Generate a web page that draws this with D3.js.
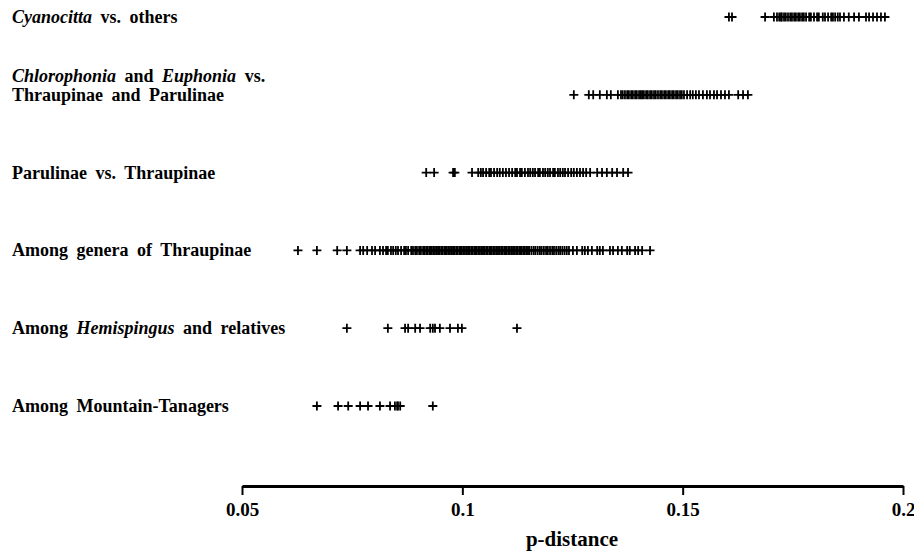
<!DOCTYPE html>
<html>
<head>
<meta charset="utf-8">
<script src="https://cdn.jsdelivr.net/npm/d3@7"></script>
<style>
  body { margin: 0; background: #fff; }
  text { font-family: "Liberation Serif", "Times New Roman", serif; font-weight: bold; fill: #000; }
</style>
</head>
<body>
<div id="chart"></div>
<script>
// 1: DATA (p-distances)
const categories = ["cyanocitta", "chlorophonia", "parulinae", "thraupinae", "hemispingus", "mountain"];

// label pieces: [text, italic?]
const labelLines = [
    [[["Cyanocitta", true], [" vs. others", false]]],
    [[["Chlorophonia", true], [" and ", false], ["Euphonia", true], [" vs.", false]],
     [["Thraupinae and Parulinae", false]]],
    [[["Parulinae vs. Thraupinae", false]]],
    [[["Among genera of Thraupinae", false]]],
    [[["Among ", false], ["Hemispingus", true], [" and relatives", false]]],
    [[["Among Mountain-Tanagers", false]]]
];

const cyanocittaValues = [0.1605, 0.1612, 0.1687, 0.1707, 0.1714, 0.1719, 0.1723, 0.1725, 0.1730,
    0.1734, 0.1739, 0.1744, 0.1748, 0.1753, 0.1757, 0.1762, 0.1766, 0.1771, 0.1775, 0.1780,
    0.1787, 0.1791, 0.1798, 0.1805, 0.1809, 0.1818, 0.1823, 0.1830, 0.1837, 0.1841, 0.1846,
    0.1852, 0.1857, 0.1866, 0.1877, 0.1889, 0.1900, 0.1916, 0.1923, 0.1932, 0.1941, 0.1950, 0.1959];

const chlorophoniaValues = [0.1253, 0.1287, 0.1297, 0.1312, 0.1328, 0.1337, 0.1353, 0.1360, 0.1364,
    0.1369, 0.1374, 0.1378, 0.1383, 0.1387, 0.1392, 0.1396, 0.1401, 0.1405, 0.1408, 0.1412,
    0.1417, 0.1421, 0.1426, 0.1430, 0.1435, 0.1439, 0.1444, 0.1449, 0.1453, 0.1458, 0.1462,
    0.1467, 0.1471, 0.1476, 0.1480, 0.1485, 0.1489, 0.1494, 0.1498, 0.1503, 0.1510, 0.1517,
    0.1523, 0.1530, 0.1537, 0.1546, 0.1555, 0.1562, 0.1571, 0.1578, 0.1587, 0.1596, 0.1605,
    0.1626, 0.1637, 0.1648];

const parulinaeValues = [0.0918, 0.0936, 0.0979, 0.0983, 0.1022, 0.1036, 0.1042, 0.1047, 0.1054,
    0.1061, 0.1065, 0.1072, 0.1079, 0.1085, 0.1092, 0.1099, 0.1106, 0.1113, 0.1120, 0.1124,
    0.1131, 0.1135, 0.1142, 0.1149, 0.1154, 0.1160, 0.1165, 0.1172, 0.1176, 0.1183, 0.1188,
    0.1194, 0.1199, 0.1206, 0.1210, 0.1217, 0.1222, 0.1228, 0.1233, 0.1240, 0.1247, 0.1253,
    0.1260, 0.1267, 0.1274, 0.1281, 0.1290, 0.1306, 0.1317, 0.1328, 0.1340, 0.1351, 0.1365, 0.1376];

const thraupinaeValues = [0.0627, 0.0670, 0.0716, 0.0738, 0.0768, 0.0775, 0.0784, 0.0795, 0.0802,
    0.0813, 0.0820, 0.0827, 0.0831, 0.0838, 0.0843, 0.0849, 0.0854, 0.0861, 0.0868, 0.0872,
    0.0877, 0.0884, 0.0888, 0.0893, 0.0897, 0.0902, 0.0906,
    0.0911, 0.0914, 0.0918, 0.0921, 0.0925, 0.0928, 0.0931, 0.0935, 0.0938, 0.0942, 0.0945,
    0.0948, 0.0952, 0.0955, 0.0959, 0.0962, 0.0965, 0.0969, 0.0972, 0.0976, 0.0979, 0.0982,
    0.0986, 0.0989, 0.0993, 0.0996, 0.0999, 0.1003, 0.1006, 0.1010, 0.1013, 0.1016, 0.1020,
    0.1023, 0.1027, 0.1030, 0.1033, 0.1037, 0.1040, 0.1044, 0.1047, 0.1050, 0.1054, 0.1057,
    0.1061, 0.1064, 0.1067, 0.1071, 0.1074, 0.1078, 0.1081, 0.1084, 0.1088, 0.1091, 0.1095,
    0.1098, 0.1101, 0.1105, 0.1108, 0.1112, 0.1115, 0.1118, 0.1122, 0.1125, 0.1129, 0.1132,
    0.1135, 0.1139, 0.1142, 0.1146, 0.1149, 0.1152,
    0.1157, 0.1162, 0.1166, 0.1171, 0.1176, 0.1180, 0.1185, 0.1190, 0.1194, 0.1199, 0.1204,
    0.1208, 0.1213, 0.1218, 0.1222, 0.1227, 0.1232, 0.1237, 0.1242,
    0.1251, 0.1260, 0.1272, 0.1278, 0.1285, 0.1294, 0.1306, 0.1312, 0.1319, 0.1335, 0.1342,
    0.1353, 0.1362, 0.1374, 0.1380, 0.1392, 0.1399, 0.1408, 0.1426];

const hemispingusValues = [0.0738, 0.0831, 0.0870, 0.0877, 0.0893, 0.0904, 0.0927, 0.0933, 0.0938,
    0.0949, 0.0972, 0.0990, 0.0999, 0.1124];

const mountainValues = [0.0670, 0.0718, 0.0741, 0.0768, 0.0786, 0.0813, 0.0836, 0.0847, 0.0852,
    0.0854, 0.0859, 0.0933];

const seriesValues = [cyanocittaValues, chlorophoniaValues, parulinaeValues,
    thraupinaeValues, hemispingusValues, mountainValues];

const tickValues = [0.05, 0.1, 0.15, 0.2];
const tickLabels = ["0.05", "0.1", "0.15", "0.2"];
const xTitle = "p-distance";

// 2: SVG
const width = 914, height = 553;
const svg = d3.select("#chart").append("svg")
    .attr("width", width)
    .attr("height", height);

// 3: SCALES
const xScale = d3.scaleLinear().domain([0.05, 0.2]).range([242, 903]);
const yScale = d3.scalePoint().domain(categories).range([17, 406]);

// 4: PLUS MARKS
const points = [];
seriesValues.forEach((vals, i) => {
    vals.forEach(v => points.push({ cat: categories[i], v }));
});

svg.append("g")
    .selectAll("path.mark")
    .data(points)
    .enter()
    .append("path")
    .attr("class", "mark")
    .attr("transform", d => `translate(${xScale(d.v)},${yScale(d.cat)})`)
    .attr("d", "M-4.5,0H4.5M0,-4.5V4.5")
    .attr("fill", "none")
    .attr("stroke", "#000")
    .attr("stroke-width", 1.8);

// 5: ROW LABELS
labelLines.forEach((lines, i) => {
    const y = yScale(categories[i]);
    lines.forEach((parts, j) => {
        const t = svg.append("text")
            .attr("x", 12)
            .attr("y", y + 6 - (lines.length - 1 - j) * 19)
            .style("font-size", "18px")
            .style("word-spacing", "4px");
        parts.forEach(([s, it]) => {
            t.append("tspan")
                .style("font-style", it ? "italic" : "normal")
                .text(s);
        });
    });
});

// 6: AXIS
const axis = svg.append("g")
    .attr("transform", "translate(0,486)")
    .call(d3.axisBottom(xScale)
        .tickValues(tickValues)
        .tickFormat((d, i) => tickLabels[i])
        .tickSize(9)
        .tickSizeOuter(0));

axis.select(".domain").attr("stroke", "#000").attr("stroke-width", 3);
axis.selectAll(".tick line").attr("stroke", "#000").attr("stroke-width", 2);
axis.selectAll(".tick text")
    .attr("y", 17)
    .style("font-family", "'Liberation Serif', serif")
    .style("font-weight", "bold")
    .style("font-size", "19px");

svg.append("text")
    .attr("x", 572)
    .attr("y", 546)
    .attr("text-anchor", "middle")
    .style("font-size", "21px")
    .text(xTitle);
</script>
</body>
</html>
